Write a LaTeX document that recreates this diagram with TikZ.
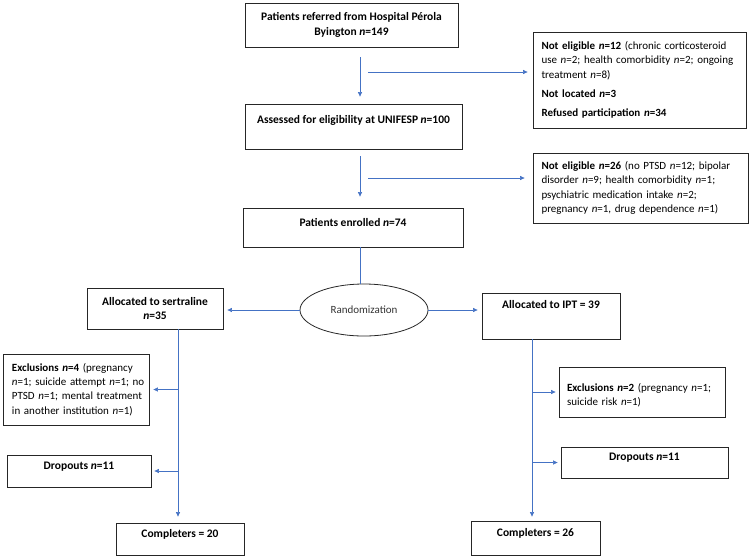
\documentclass[tikz,border=0pt]{standalone}
\usepackage{fontspec}
\setmainfont{Carlito}
\usetikzlibrary{arrows.meta,shapes.geometric}
\definecolor{linkblue}{RGB}{68,114,196}
\newcommand{\oneline}[1]{\mbox{#1}}
\tikzset{
  box/.style={draw=black!85, line width=0.8pt, align=center, inner sep=0pt,
    font=\fontsize{11.5}{14.8}\selectfont},
  leftbox/.style={box, align=left, font=\fontsize{11}{14.2}\selectfont},
  arr/.style={draw=linkblue, line width=0.6pt, -{Triangle[length=4.5pt,width=4pt]}},
  link/.style={draw=linkblue, line width=0.6pt}
}
\begin{document}
\begin{tikzpicture}[x=1pt, y=-1pt]
    \useasboundingbox (0,0) rectangle (750,558);

    % screening
    \node[box, minimum width=213pt, minimum height=44pt] (referred) at (351.5,25)
        {\textbf{Patients referred from Hospital Pérola}\\\textbf{Byington \textit{n}=149}};
    \node[leftbox, text width=196pt, minimum width=213pt, minimum height=96pt] (notelig1) at (639.5,80)
        {\oneline{\textbf{Not eligible \textit{n}=12} (chronic corticosteroid}\\
         \oneline{use \textit{n}=2; health comorbidity \textit{n}=2; ongoing}\\
         \oneline{treatment \textit{n}=8)}\\[5pt]
         \oneline{\textbf{Not located \textit{n}=3}}\\[5pt]
         \oneline{\textbf{Refused participation \textit{n}=34}}};
    \node[box, text depth=13.5pt, minimum width=217pt, minimum height=45pt] (assessed) at (353.5,126.5)
        {\textbf{Assessed for eligibility at UNIFESP \textit{n}=100}};
    \node[leftbox, text width=198pt, minimum width=215pt, minimum height=70pt] (notelig2) at (640.5,188)
        {\oneline{\textbf{Not eligible \textit{n}=26} (no PTSD \textit{n}=12; bipolar}\\
         \oneline{disorder \textit{n}=9; health comorbidity \textit{n}=1;}\\
         \oneline{psychiatric medication intake \textit{n}=2;}\\
         \oneline{pregnancy \textit{n}=1, drug dependence \textit{n}=1)}};
    \node[box, text depth=9.5pt, minimum width=220pt, minimum height=39pt] (enrolled) at (353,227.5)
        {\textbf{Patients enrolled \textit{n}=74}};

    % randomization
    \node[draw=black!85, line width=0.8pt, ellipse, minimum width=128pt, minimum height=52pt,
        inner sep=0pt, font=\fontsize{11}{14}\selectfont, text=black!80] (rand) at (364,310) {Randomization};
    \node[box, minimum width=136pt, minimum height=41pt] (sert) at (155,308.5)
        {\textbf{Allocated to sertraline}\\\textbf{\textit{n}=35}};
    \node[box, text depth=22.5pt, minimum width=138pt, minimum height=46pt] (ipt) at (551,316)
        {\textbf{Allocated to IPT = 39}};

    % sertraline arm
    \node[leftbox, text width=128pt, minimum width=146pt, minimum height=71pt] (excl1) at (76,389.5)
        {\oneline{\textbf{Exclusions \textit{n}=4} (pregnancy}\\
         \oneline{\textit{n}=1; suicide attempt \textit{n}=1; no}\\
         \oneline{PTSD \textit{n}=1; mental treatment}\\
         \oneline{in another institution \textit{n}=1)}};
    \node[box, text depth=10.5pt, minimum width=144pt, minimum height=32pt] (drop1) at (79,471)
        {\textbf{Dropouts \textit{n}=11}};
    \node[box, text depth=10.5pt, minimum width=128pt, minimum height=32pt] (compl1) at (180,539)
        {\textbf{Completers = 20}};

    % IPT arm
    \node[leftbox, text width=150pt, text depth=8.5pt, minimum width=166pt, minimum height=50pt] (excl2) at (642,392)
        {\oneline{\textbf{Exclusions \textit{n}=2} (pregnancy \textit{n}=1;}\\
         \oneline{suicide risk \textit{n}=1)}};
    \node[box, text depth=11.5pt, minimum width=167pt, minimum height=31pt] (drop2) at (644.5,462.5)
        {\textbf{Dropouts \textit{n}=11}};
    \node[box, text depth=10.5pt, minimum width=129pt, minimum height=34pt] (compl2) at (535.5,538)
        {\textbf{Completers = 26}};

    % trunks and branch points
    \coordinate (sp) at (360,0);
    \coordinate (st) at (178,0);
    \coordinate (it) at (532,0);
    \coordinate (b1) at (360,72);
    \coordinate (b2) at (360,178);

    % connectors
    \draw[arr, shorten <=10pt, shorten >=7pt] (referred.south -| sp) -- (assessed.north -| sp);
    \draw[arr, shorten <=8pt, shorten >=5pt] (b1) -- (b1 -| notelig1.west);
    \draw[arr, shorten <=7pt, shorten >=11pt] (assessed.south -| sp) -- (enrolled.north -| sp);
    \draw[arr, shorten <=8pt, shorten >=8pt] (b2) -- (b2 -| notelig2.west);
    \draw[link] (enrolled.south -| sp) -- (rand.north -| sp);
    \draw[arr, shorten >=4pt] (rand.west) -- (rand.west -| sert.east);
    \draw[arr, shorten >=4pt] (rand.east) -- (rand.east -| ipt.west);

    \draw[arr, shorten >=6pt] (sert.south -| st) -- (compl1.north -| st);
    \draw[arr, shorten >=4pt] (excl1.east -| st) -- (excl1.east);
    \draw[arr, shorten >=3pt] (drop1.east -| st) -- (drop1.east);

    \draw[arr, shorten >=4pt] (ipt.south -| it) -- (compl2.north -| it);
    \draw[arr, shorten >=3pt] (excl2.west -| it) -- (excl2.west);
    \draw[arr, shorten >=3pt] (drop2.west -| it) -- (drop2.west);
\end{tikzpicture}
\end{document}
